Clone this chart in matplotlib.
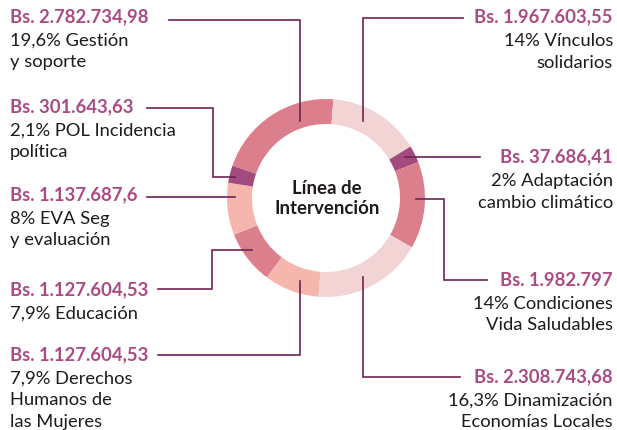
import matplotlib.pyplot as plt

plt.rcParams['font.family'] = ['Lato', 'DejaVu Sans']

# datos (orden horario empezando por Gestión)
nombres = ["Gestión y soporte", "Vínculos solidarios", "Adaptación cambio climático",
           "Condiciones Vida Saludables", "Dinamización Economías Locales",
           "Derechos Humanos de las Mujeres", "Educación", "EVA Seg y evaluación",
           "POL Incidencia política"]
montos = ["Bs. 2.782.734,98", "Bs. 1.967.603,55", "Bs. 37.686,41", "Bs. 1.982.797",
          "Bs. 2.308.743,68", "Bs. 1.127.604,53", "Bs. 1.127.604,53", "Bs. 1.137.687,6",
          "Bs. 301.643,63"]
etiquetas = ["19,6% Gestión\ny soporte", "14% Vínculos\nsolidarios",
             "2% Adaptación\ncambio climático", "14% Condiciones\nVida Saludables",
             "16,3% Dinamización\nEconomías Locales", "7,9% Derechos\nHumanos de\nlas Mujeres",
             "7,9% Educación", "8% EVA Seg\ny evaluación", "2,1% POL Incidencia\npolítica"]
# porción del anillo tal como se ve en el gráfico
porcion = [20.9, 15.1, 2.8, 14.2, 17.9, 9.0, 8.75, 8.5, 2.8]

rosa = '#dc7f8c'
claro = '#f3d4d4'
salmon = '#f5b6ae'
morado = '#a34a7e'
colores = [rosa, claro, morado, rosa, claro, salmon, rosa, salmon, morado]
linea = '#6e2355'
c_monto = '#ab4b84'
c_texto = '#1f1a1c'

W, H = 617, 431
fig = plt.figure(figsize=(W / 100, H / 100), dpi=100)
ax = fig.add_axes([0, 0, 1, 1])

cx, cy, R = 326, 199, 99
ax.pie(porcion, colors=colores, center=(cx, H - cy), radius=R,
       startangle=161, counterclock=False,
       wedgeprops=dict(width=25, linewidth=0))

ax.set_xlim(0, W)
ax.set_ylim(0, H)
ax.set_aspect('equal')
ax.axis('off')

ax.text(cx + 1, H - 188, "Línea de", ha='center', va='center', fontsize=13.4,
        fontweight='bold', color=c_texto)
ax.text(cx + 1, H - 209, "Intervención", ha='center', va='center', fontsize=13.4,
        fontweight='bold', color=c_texto)

# posición del texto (x, y del monto, alineación) y líneas guía, en píxeles
texto_pos = [(10, 17, 'left'), (613, 17, 'right'), (613, 157, 'right'),
             (613, 280, 'right'), (613, 377, 'right'), (10, 355, 'left'),
             (10, 290, 'left'), (10, 195, 'left'), (10, 107, 'left')]
guias = [
    [(169, 21), (300, 21), (300, 122)],
    [(463, 19), (363, 19), (363, 122)],
    [(480, 158), (405, 158)],
    [(416, 200), (444, 200), (444, 281), (487, 281)],
    [(363, 278), (363, 378), (460, 378)],
    [(158, 356), (300, 356), (300, 282)],
    [(158, 290), (212, 290), (212, 251), (252, 251)],
    [(147, 198), (235, 198)],
    [(147, 109), (213, 109), (213, 178), (235, 178)],
]

for monto, etq, (x, y, ha), g in zip(montos, etiquetas, texto_pos, guias):
    ax.text(x, H - y, monto, ha=ha, va='center', fontsize=13.3, fontweight='bold',
            color=c_monto)
    for i, t in enumerate(etq.split('\n')):
        ax.text(x, H - (y + 24 + 21.5 * i), t, ha=ha, va='center', fontsize=13.2,
                color=c_texto)
    xs = [p[0] for p in g]
    ys = [H - p[1] for p in g]
    ax.plot(xs, ys, color=linea, lw=1.2, solid_joinstyle='miter')

fig.savefig('out.png', dpi=100)
